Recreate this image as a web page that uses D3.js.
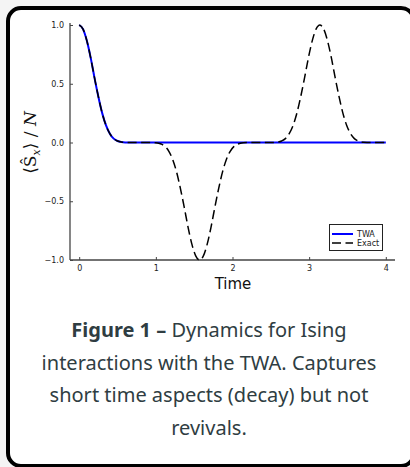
<!DOCTYPE html>
<html>
<head>
<meta charset="utf-8">
<script src="https://cdn.jsdelivr.net/npm/d3@7"></script>
<style>
  html, body { margin: 0; padding: 0; background: #f4f4f4; }
  svg { display: block; }
</style>
</head>
<body>
<svg id="fig" width="410" height="467"></svg>
<script>
// Exact solution: decay, negative revival at t≈π/2, positive revival at t≈π
const exactTime = [0, 0.05, 0.1, 0.15, 0.2, 0.25, 0.3, 0.35, 0.4, 0.45, 0.5, 0.55, 0.6, 0.7, 0.8, 0.9, 1.0,
  1.07, 1.12, 1.17, 1.22, 1.27, 1.32, 1.37, 1.42, 1.47, 1.52, 1.57, 1.62, 1.67, 1.72, 1.77, 1.82, 1.87, 1.92, 1.97, 2.02, 2.07, 2.14,
  2.2, 2.3, 2.4, 2.5, 2.57,
  2.64, 2.69, 2.74, 2.79, 2.84, 2.89, 2.94, 2.99, 3.04, 3.09, 3.14, 3.19, 3.24, 3.29, 3.34, 3.39, 3.44, 3.49, 3.54, 3.59, 3.64, 3.71,
  3.8, 3.9, 4.0];
const exactValue = [1, 0.965, 0.865, 0.72, 0.55, 0.39, 0.25, 0.145, 0.075, 0.033, 0.013, 0.004, 0.001, 0, 0, 0, -0.002,
  -0.013, -0.033, -0.075, -0.145, -0.25, -0.39, -0.55, -0.72, -0.865, -0.965, -1, -0.965, -0.865, -0.72, -0.55, -0.39, -0.25, -0.145, -0.075, -0.033, -0.013, -0.002,
  0, 0, 0, 0, 0.002,
  0.013, 0.033, 0.075, 0.145, 0.25, 0.39, 0.55, 0.72, 0.865, 0.965, 1, 0.965, 0.865, 0.72, 0.55, 0.39, 0.25, 0.145, 0.075, 0.033, 0.013, 0.002,
  0, 0, 0];

// Truncated Wigner approximation: decays and stays at zero
const twaTime = [0, 0.05, 0.1, 0.15, 0.2, 0.25, 0.3, 0.35, 0.4, 0.45, 0.5, 0.55, 0.6, 0.7, 0.8, 1.0, 1.5, 2.0, 2.5, 3.0, 3.5, 4.0];
const twaValue = [1, 0.965, 0.865, 0.72, 0.55, 0.39, 0.25, 0.145, 0.075, 0.033, 0.013, 0.004, 0.001, 0, 0, 0, 0, 0, 0, 0, 0, 0];

const xTicks = [0, 1, 2, 3, 4];
const yTicks = [-1.0, -0.5, 0.0, 0.5, 1.0];
const seriesNames = ["TWA", "Exact"];
const captionLines = [
  [{ t: "Figure 1 \u2013", b: true }, { t: " Dynamics for Ising", b: false }],
  [{ t: "interactions with the TWA. Captures", b: false }],
  [{ t: "short time aspects (decay) but not", b: false }],
  [{ t: "revivals.", b: false }]
];

const svg = d3.select("#fig");

// Card
svg.append("rect")
  .attr("x", 8).attr("y", 8)
  .attr("width", 406).attr("height", 458)
  .attr("rx", 13).attr("ry", 13)
  .attr("fill", "#ffffff")
  .attr("stroke", "#000").attr("stroke-width", 4);

// Plot area
const plotL = 70, plotR = 395, plotT = 25, plotB = 260;
const x = d3.scaleLinear().domain([-0.12, 4.12]).range([plotL, plotR]);
const y = d3.scaleLinear().domain([-1, 1]).range([plotB, plotT]);

const axisColor = "#444";
const tickFont = "DejaVu Sans, sans-serif";

// Y axis
const yAxis = svg.append("g").attr("transform", `translate(${plotL},0)`)
  .call(d3.axisLeft(y).tickValues(yTicks).tickSize(-3).tickPadding(6)
    .tickFormat(d => d3.format(".1f")(d).replace("-", "\u2212")));
// X axis
const xAxis = svg.append("g").attr("transform", `translate(0,${plotB})`)
  .call(d3.axisBottom(x).tickValues(xTicks).tickSize(-3).tickPadding(5)
    .tickFormat(d3.format("d")));

[yAxis, xAxis].forEach(g => {
  g.select(".domain").attr("stroke", axisColor).attr("stroke-width", 1.3);
  g.selectAll(".tick line").attr("stroke", axisColor).attr("stroke-width", 1);
  g.selectAll(".tick text").attr("font-family", tickFont).attr("font-size", 8).attr("fill", "#222");
});
// axis lines drawn without end caps
xAxis.select(".domain").attr("d", `M${plotL},0H${plotR}`);
yAxis.select(".domain").attr("d", `M0,${plotT - 2}V${plotB}`);

// Lines
const line = d3.line().x(d => x(d[0])).y(d => y(d[1])).curve(d3.curveMonotoneX);
const twaData = twaTime.map((t, i) => [t, twaValue[i]]);
const exactData = exactTime.map((t, i) => [t, exactValue[i]]);

svg.append("path").datum(twaData).attr("d", line)
  .attr("fill", "none").attr("stroke", "#0000ff").attr("stroke-width", 2);
svg.append("path").datum(exactData).attr("d", line)
  .attr("fill", "none").attr("stroke", "#000").attr("stroke-width", 1.5)
  .attr("stroke-dasharray", "9,4.5");

// Legend
const lg = svg.append("g");
lg.append("rect").attr("x", 329.5).attr("y", 224.5).attr("width", 53).attr("height", 26)
  .attr("fill", "#fff").attr("stroke", "#222").attr("stroke-width", 1);
const legendStyles = [
  { color: "#0000ff", width: 2, dash: null },
  { color: "#000", width: 1.5, dash: "9,4.5" }
];
seriesNames.forEach((name, i) => {
  const yy = 234 + i * 9;
  lg.append("line").attr("x1", 332).attr("x2", 353).attr("y1", yy).attr("y2", yy)
    .attr("stroke", legendStyles[i].color).attr("stroke-width", legendStyles[i].width)
    .attr("stroke-dasharray", legendStyles[i].dash);
  lg.append("text").attr("x", 357).attr("y", yy + 3).text(name)
    .attr("font-family", tickFont).attr("font-size", 8).attr("fill", "#222");
});

// Axis titles
svg.append("text").attr("x", (plotL + plotR) / 2 + 0.5).attr("y", 289)
  .attr("text-anchor", "middle").attr("font-family", tickFont).attr("font-size", 15)
  .attr("fill", "#111").text("Time");

const yl = svg.append("text")
  .attr("transform", `translate(36,${(plotT + plotB) / 2}) rotate(-90)`)
  .attr("text-anchor", "middle")
  .attr("font-family", "DejaVu Serif, Liberation Serif, serif").attr("font-size", 17)
  .attr("fill", "#111");
yl.append("tspan").text("\u27E8S\u0302");
yl.append("tspan").attr("font-style", "italic").attr("font-size", 11).attr("dy", 4).text("x");
yl.append("tspan").attr("dy", -4).text("\u27E9 / ");
yl.append("tspan").attr("font-style", "italic").text("N");

// Caption
const cap = svg.append("g");
captionLines.forEach((parts, i) => {
  const t = cap.append("text").attr("x", 209).attr("y", 337 + i * 32.5)
    .attr("text-anchor", "middle").attr("font-family", "Noto Sans, sans-serif")
    .attr("font-size", 20).attr("fill", "#2f3d42");
  parts.forEach(p => t.append("tspan").attr("font-weight", p.b ? 700 : 400).text(p.t));
});
</script>
</body>
</html>
